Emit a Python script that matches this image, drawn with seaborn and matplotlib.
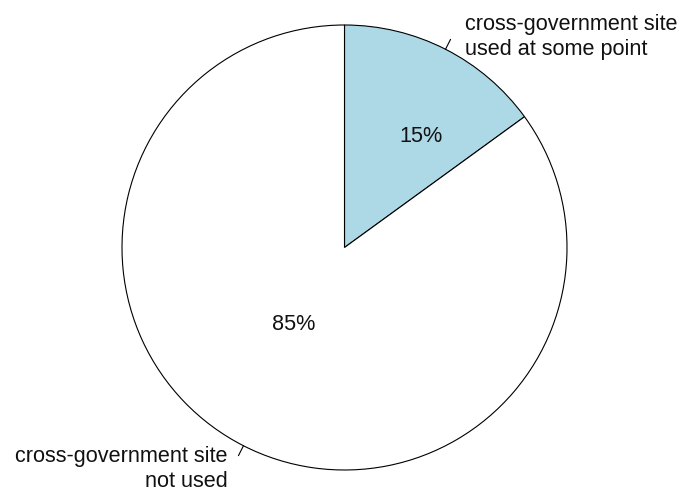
import numpy as np
import matplotlib
matplotlib.use("Agg")
import matplotlib.pyplot as plt
import seaborn as sns

labels = ["cross-government site\nused at some point", "cross-government site\nnot used"]
shares = [15, 85]
colors = ["#ADD8E6", "#FFFFFF"]

sns.set_theme(style="white")
plt.rcParams["font.family"] = ["Liberation Sans", "DejaVu Sans"]

W, H = 681, 491
FS = 15.6
fig = plt.figure(figsize=(W / 100, H / 100), dpi=100)
ax = fig.add_axes([0, 0, 1, 1])

cx, cy, R = 344.5, H - 247.5, 222.5
wedges, _ = ax.pie(shares, colors=colors, startangle=90, counterclock=False,
                   center=(cx, cy), radius=R, frame=True,
                   wedgeprops=dict(edgecolor="black", linewidth=0.8))
ax.set_xlim(0, W)
ax.set_ylim(0, H)
ax.set_aspect("equal")
ax.axis("off")

# tick marks and outer labels at each wedge's mid angle
label_offsets = [(7, -5.5), (-4, -2.8)]
for w, lab, off in zip(wedges, labels, label_offsets):
    mid = np.deg2rad((w.theta1 + w.theta2) / 2)
    c, s = np.cos(mid), np.sin(mid)
    ax.plot([cx + R * c, cx + 1.05 * R * c], [cy + R * s, cy + 1.05 * R * s],
            color="black", lw=0.8)
    ha = "left" if c >= 0 else "right"
    ax.annotate(lab, (cx + 1.1 * R * c, cy + 1.1 * R * s),
                xytext=off, textcoords="offset points",
                ha=ha, va="center", multialignment=ha,
                fontsize=FS, color="#111111", linespacing=1.25)

# percentage labels inside the slices
pct_pos = [(0.345, 0.5), (-0.23, -0.347)]
for share, (px, py) in zip(shares, pct_pos):
    ax.text(cx + px * R, cy + py * R, f"{share}%", ha="center", va="center",
            fontsize=FS, color="#111111")

fig.savefig("out.png", dpi=100)
